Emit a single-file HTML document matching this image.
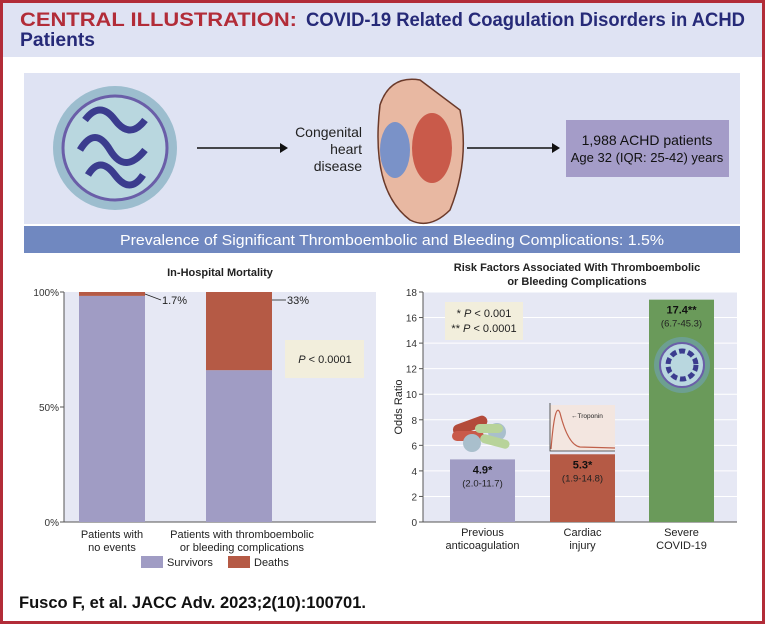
<!DOCTYPE html>
<html><head><meta charset="utf-8"><style>
html,body{margin:0;padding:0;background:#fff}
svg{display:block;font-family:"Liberation Sans",sans-serif}
</style></head><body>
<svg id="root" width="765" height="624" viewBox="0 0 765 624" xmlns="http://www.w3.org/2000/svg">
<rect x="0" y="0" width="765" height="624" fill="#fff"/>
<rect x="0" y="0" width="765" height="57" fill="#dfe3f3"/>
<text x="20" y="26" font-size="19" font-weight="bold" fill="#b22c38" textLength="277" lengthAdjust="spacingAndGlyphs">CENTRAL ILLUSTRATION:</text>
<text x="306" y="26" font-size="19" font-weight="bold" fill="#262a78" textLength="439" lengthAdjust="spacingAndGlyphs">COVID-19 Related Coagulation Disorders in ACHD</text>
<text x="20" y="46" font-size="19" font-weight="bold" fill="#262a78" textLength="75" lengthAdjust="spacingAndGlyphs">Patients</text>

<rect x="24" y="73" width="716" height="151" fill="#dfe3f3"/>
<g>
<circle cx="115" cy="148" r="62" fill="#6fa3b5" opacity="0.6"/>
<circle cx="115" cy="148" r="52" fill="#b9d7df" stroke="#6a5ea8" stroke-width="3"/>
<path d="M85 120 q15 -20 30 0 q15 20 30 0 M80 150 q15 -25 30 0 q15 25 35 0 M88 175 q12 -20 27 0 q15 20 28 0" stroke="#3b3c8e" stroke-width="7" fill="none"/>
</g>
<line x1="197" y1="148" x2="280" y2="148" stroke="#111" stroke-width="1.5"/>
<path d="M280 143 L288 148 L280 153 Z" fill="#111"/>
<text font-size="14" fill="#222" text-anchor="end"><tspan x="362" y="137">Congenital</tspan><tspan x="362" y="154">heart</tspan><tspan x="362" y="171">disease</tspan></text>
<g>
<path d="M380 105 q10 -30 40 -25 l40 30 q10 50 -10 100 q-20 20 -40 10 q-40 -30 -30 -115 Z" fill="#e8b8a2" stroke="#6b3a2a" stroke-width="1.5"/>
<ellipse cx="395" cy="150" rx="15" ry="28" fill="#7a92c8"/>
<ellipse cx="432" cy="148" rx="20" ry="35" fill="#c95a4a"/>
</g>
<line x1="467" y1="148" x2="552" y2="148" stroke="#111" stroke-width="1.5"/>
<path d="M552 143 L560 148 L552 153 Z" fill="#111"/>
<rect x="566" y="120" width="163" height="57" fill="#a49cc8"/>
<text x="647" y="145" font-size="14" text-anchor="middle" fill="#111">1,988 ACHD patients</text>
<text x="647" y="162" font-size="13" text-anchor="middle" fill="#111">Age 32 (IQR: 25-42) years</text>

<rect x="24" y="226" width="716" height="27" fill="#7088c0"/>
<text x="392" y="245" font-size="15" text-anchor="middle" fill="#fff" textLength="544" lengthAdjust="spacingAndGlyphs">Prevalence of Significant Thromboembolic and Bleeding Complications: 1.5%</text>

<g id="left"></g>
<g id="right"></g>

<text x="19" y="608" font-size="17" font-weight="bold" fill="#111" textLength="347" lengthAdjust="spacingAndGlyphs">Fusco F, et al. JACC Adv. 2023;2(10):100701.</text>
<rect x="1.5" y="1.5" width="762" height="621" fill="none" stroke="#b22c38" stroke-width="3"/>
</svg>
<script>
const NS="http://www.w3.org/2000/svg";
function mk(p,t,a,txt){const e=document.createElementNS(NS,t);for(const k in a)e.setAttribute(k,a[k]);if(txt!==undefined)e.textContent=txt;p.appendChild(e);return e;}

// Left chart data
const mortCategories=["Patients with|no events","Patients with thromboembolic|or bleeding complications"];
const deathsPct=[1.7,34];
const survivorsPct=[98.3,66];
const deathLabels=["1.7%","33%"];
const mortTicks=[0,50,100];

// Right chart data
const riskCategories=["Previous|anticoagulation","Cardiac|injury","Severe|COVID-19"];
const oddsRatios=[4.9,5.3,17.4];
const orLabels=["4.9*","5.3*","17.4**"];
const ciLabels=["(2.0-11.7)","(1.9-14.8)","(6.7-45.3)"];
const orTicks=[0,2,4,6,8,10,12,14,16,18];

(function(){
const g=document.getElementById('left');
const x0=64,x1=376,yb=522,yt=292;
const y=v=>yb-(v/100)*(yb-yt);
const bx=[79,206],bw=66;
mk(g,'rect',{x:x0,y:yt,width:x1-x0,height:yb-yt,fill:'#e6e8f4'});
mk(g,'text',{x:220,y:276,'font-size':11,'font-weight':'bold','text-anchor':'middle',fill:'#222'},'In-Hospital Mortality');
mortTicks.forEach(t=>{
 mk(g,'line',{x1:x0-4,x2:x0,y1:y(t),y2:y(t),stroke:'#555'});
 const tl=mk(g,'text',{x:x0-5,y:y(t)+4,'font-size':10,'text-anchor':'end',fill:'#333'},t+'%');
 
 
});
mk(g,'line',{x1:x0,x2:x0,y1:yt,y2:yb,stroke:'#555'});
mk(g,'line',{x1:x0,x2:x1,y1:yb,y2:yb,stroke:'#555'});
mortCategories.forEach((c,i)=>{
 const s=mk(g,'rect',{x:bx[i],y:y(survivorsPct[i]),width:bw,height:yb-y(survivorsPct[i]),fill:'#a09cc4'});
 
 
 const d=mk(g,'rect',{x:bx[i],y:y(100),width:bw,height:y(100-deathsPct[i])-y(100),fill:'#b55a45'});
 
 
 const ly=y(100)+12;
 const mid=y(100-deathsPct[i]/2);
 if(i==0){mk(g,'line',{x1:bx[i]+bw,y1:mid,x2:bx[i]+bw+16,y2:ly-4,stroke:'#222','stroke-width':0.8});mk(g,'text',{x:bx[i]+bw+17,y:ly,'font-size':11,fill:'#222'},deathLabels[i]);}
 else{mk(g,'line',{x1:bx[i]+bw,y1:ly-4,x2:bx[i]+bw+14,y2:ly-4,stroke:'#222','stroke-width':0.8});mk(g,'text',{x:bx[i]+bw+15,y:ly,'font-size':11,fill:'#222'},deathLabels[i]);}
 const parts=c.split('|');
 parts.forEach((p,j)=>mk(g,'text',{x:bx[i]+bw/2+(i==1?3:0),y:538+j*13,'font-size':11,'text-anchor':'middle',fill:'#222'},p));
});
mk(g,'rect',{x:285,y:340,width:79,height:38,fill:'#f2eedc'});
mk(g,'text',{x:325,y:363,'font-size':11,'text-anchor':'middle',fill:'#222'}).innerHTML='<tspan font-style="italic">P</tspan> &lt; 0.0001';
const l1=mk(g,'rect',{x:141,y:556,width:22,height:12,fill:'#a09cc4'});


mk(g,'text',{x:167,y:566,'font-size':11,fill:'#222'},'Survivors');
const l2=mk(g,'rect',{x:228,y:556,width:22,height:12,fill:'#b55a45'});


mk(g,'text',{x:254,y:566,'font-size':11,fill:'#222'},'Deaths');
})();

(function(){
const g=document.getElementById('right');
const x0=423,x1=737,yb=522,yt=292;
const y=v=>yb-(v/18)*(yb-yt);
const bx=[450,550,649],bw=65,cols=['#a09cc4','#b55a45','#6a9a5a'];
mk(g,'rect',{x:x0,y:yt,width:x1-x0,height:yb-yt,fill:'#e6e8f4'});
mk(g,'text',{x:577,y:271,'font-size':11,'font-weight':'bold','text-anchor':'middle',fill:'#222'},'Risk Factors Associated With Thromboembolic');
mk(g,'text',{x:577,y:285,'font-size':11,'font-weight':'bold','text-anchor':'middle',fill:'#222'},'or Bleeding Complications');
orTicks.forEach(t=>{
 if(t>0)mk(g,'line',{x1:x0,x2:x1,y1:y(t),y2:y(t),stroke:'#fff','stroke-width':1});
 mk(g,'line',{x1:x0-4,x2:x0,y1:y(t),y2:y(t),stroke:'#555'});
 const tl=mk(g,'text',{x:x0-6,y:y(t)+4,'font-size':10,'text-anchor':'end',fill:'#333'},String(t));
 
 
});
mk(g,'line',{x1:x0,x2:x0,y1:yt,y2:yb,stroke:'#555'});
mk(g,'line',{x1:x0,x2:x1,y1:yb,y2:yb,stroke:'#555'});
mk(g,'text',{x:0,y:0,'font-size':11,'text-anchor':'middle',fill:'#222',transform:'translate(402,407) rotate(-90)'},'Odds Ratio');
mk(g,'rect',{x:445,y:302,width:78,height:38,fill:'#f2eedc'});
mk(g,'text',{x:484,y:317,'font-size':11,'text-anchor':'middle',fill:'#222'}).innerHTML='* <tspan font-style="italic">P</tspan> &lt; 0.001';
mk(g,'text',{x:484,y:332,'font-size':11,'text-anchor':'middle',fill:'#222'}).innerHTML='** <tspan font-style="italic">P</tspan> &lt; 0.0001';
riskCategories.forEach((c,i)=>{
 const b=mk(g,'rect',{x:bx[i],y:y(oddsRatios[i]),width:bw,height:yb-y(oddsRatios[i]),fill:cols[i]});
 
 
 const ty=y(oddsRatios[i]);
 mk(g,'text',{x:bx[i]+bw/2,y:ty+14,'font-size':11,'font-weight':'bold','text-anchor':'middle',fill:'#111'},orLabels[i]);
 mk(g,'text',{x:bx[i]+bw/2,y:ty+27,'font-size':9.5,'text-anchor':'middle',fill:'#222'},ciLabels[i]);
 c.split('|').forEach((p,j)=>mk(g,'text',{x:bx[i]+bw/2,y:536+j*13,'font-size':11,'text-anchor':'middle',fill:'#222'},p));
});
const pi=mk(g,'g',{});


mk(pi,'rect',{x:452,y:420,width:36,height:11,rx:5.5,fill:'#b34a3a',transform:'rotate(-20 470 425)'});
mk(pi,'rect',{x:452,y:431,width:32,height:10,rx:5,fill:'#c95a4a'});
mk(pi,'circle',{cx:472,cy:443,r:9,fill:'#a9bfcc'});
mk(pi,'circle',{cx:497,cy:432,r:9,fill:'#a9bfcc'});
mk(pi,'rect',{x:475,y:424,width:28,height:9,rx:4.5,fill:'#b8d39a'});
mk(pi,'rect',{x:480,y:437,width:30,height:9,rx:4.5,fill:'#b8d39a',transform:'rotate(15 495 441)'});
const tr=mk(g,'g',{});


mk(tr,'rect',{x:550,y:405,width:65,height:46,fill:'#f3e6e0'});
mk(tr,'path',{d:'M550 403 L550 451 L615 451',stroke:'#333',fill:'none','stroke-width':0.8});
mk(tr,'path',{d:'M551 449 Q555 400 560 413 Q568 445 580 447 L615 448',stroke:'#c0604a',fill:'none','stroke-width':1.2});
mk(tr,'text',{x:571,y:418,'font-size':6.5,fill:'#222'},'←Troponin');
const vi=mk(g,'g',{});


mk(vi,'circle',{cx:682,cy:365,r:28,fill:'#6fa3b5',opacity:0.6});
mk(vi,'circle',{cx:682,cy:365,r:22,fill:'#b9d7df',stroke:'#6a5ea8','stroke-width':2});
mk(vi,'circle',{cx:682,cy:365,r:14,fill:'none',stroke:'#3b3c8e','stroke-width':5,'stroke-dasharray':'6 3'});
})();
</script>
</body></html>
